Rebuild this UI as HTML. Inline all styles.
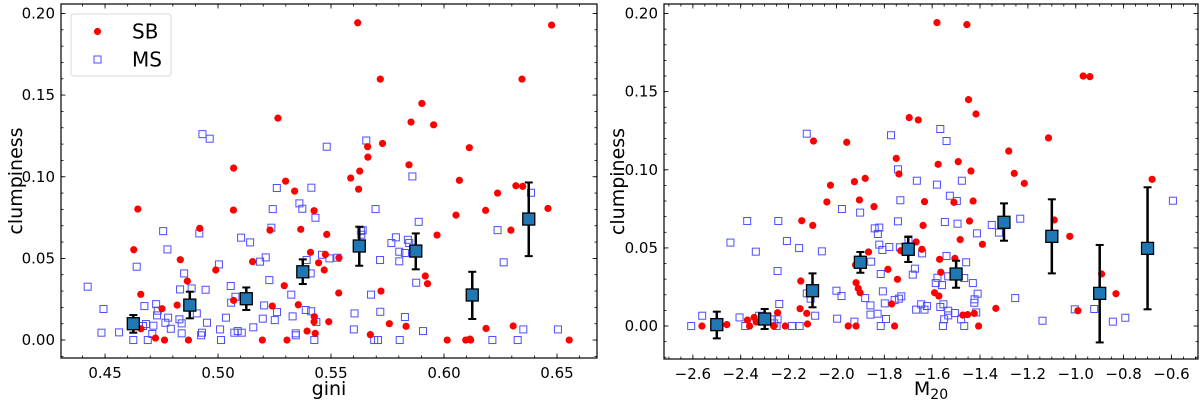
<!DOCTYPE html>
<html><head><meta charset="utf-8">
<style>
html,body{margin:0;padding:0;background:#fff;}
svg{display:block;font-family:"DejaVu Sans","Liberation Sans",sans-serif;}
</style></head>
<body>
<svg id="chart" width="1200" height="405" viewBox="0 0 1200 405" xmlns="http://www.w3.org/2000/svg"></svg>
<script>
// ---------- Left panel data (gini vs clumpiness) ----------
const sbGiniX = [0.4627,0.4645,0.4658,0.4659,0.4723,0.4752,0.4763,0.4819,0.4833,0.4864,0.4869,0.4919,0.499,0.5069,0.5068,0.5069,0.5153,0.5196,0.523,0.524,0.5265,0.5299,0.5293,0.5305,0.5339,0.5355,0.5366,0.5394,0.5409,0.5425,0.5426,0.5425,0.543,0.5445,0.547,0.5475,0.5481,0.549,0.5534,0.5535,0.5587,0.5618,0.5622,0.5627,0.5662,0.5663,0.5674,0.5718,0.5721,0.5728,0.5758,0.5832,0.5845,0.5854,0.5902,0.5917,0.5927,0.5954,0.5969,0.6014,0.6053,0.6068,0.6096,0.6112,0.6115,0.6118,0.6184,0.6186,0.6237,0.6296,0.6306,0.6318,0.6345,0.6348,0.646,0.6476,0.6554];
const sbGiniY = [0.0553,0.0802,0.028,0.0069,0.0012,0.0192,0,0.0214,0.0492,0.0361,0,0.0684,0.0429,0.1053,0.0796,0.0243,0.048,0,0.0673,0.0208,0.1359,0.0973,0.0333,0,0.0912,0.0216,0.0678,0.0055,0.0537,0.0792,0.0143,0.0112,0.0041,0.0473,0.0429,0.0524,0.0647,0.0112,0.0288,0.0504,0.0992,0.1943,0.0924,0.1035,0.1184,0.112,0.0033,0.1598,0.03,0.1204,0.01,0.0084,0.1073,0.1335,0.1449,0.0392,0.0345,0.1318,0.0643,0,0.0765,0.0978,0,0.1178,0.0006,0,0.0794,0.0071,0.09,0.0673,0.0086,0.0945,0.1598,0.0941,0.0806,0.1929,0];
const msGiniX = [0.4423,0.4493,0.4484,0.4562,0.4625,0.464,0.4668,0.4674,0.4681,0.4689,0.4709,0.4714,0.4726,0.473,0.4733,0.4757,0.4767,0.4776,0.4779,0.4791,0.4829,0.4832,0.4839,0.4839,0.485,0.4883,0.4906,0.4917,0.4925,0.4929,0.4931,0.4945,0.4951,0.4963,0.5004,0.5009,0.5013,0.5035,0.5056,0.5058,0.5077,0.5072,0.5087,0.5105,0.5102,0.5142,0.5156,0.5186,0.5204,0.5198,0.5211,0.5227,0.5236,0.5242,0.5251,0.5261,0.526,0.5324,0.533,0.5344,0.5344,0.536,0.5373,0.5392,0.5388,0.541,0.5412,0.5413,0.5426,0.5431,0.5435,0.546,0.5481,0.5493,0.5528,0.5604,0.5601,0.5632,0.564,0.5634,0.5656,0.5677,0.5691,0.5697,0.5708,0.5717,0.5718,0.5767,0.5787,0.5802,0.5802,0.5804,0.5827,0.5827,0.584,0.5846,0.586,0.5877,0.5888,0.5907,0.6214,0.6237,0.6264,0.6326,0.6351,0.6385,0.6504];
const msGiniY = [0.0327,0.019,0.0045,0.0047,0,0.0449,0.0086,0.0208,0.0098,0,0.0037,0.0088,0.022,0.0151,0.018,0.0667,0.0106,0.0555,0.0137,0.0069,0.0127,0.031,0.0102,0.0041,0.0408,0.0316,0.0163,0.0653,0.0029,0.0045,0.1261,0.0308,0.0106,0.1233,0.0463,0.0065,0,0.0137,0.0331,0.0229,0.0265,0.0045,0.0055,0.0045,0.0627,0.0598,0.0078,0.048,0.0212,0.0131,0.0506,0.0367,0.0688,0.0802,0.0122,0.0171,0.0931,0.0278,0.0145,0.0041,0.0029,0.0837,0.0804,0.049,0.0184,0.0408,0.0176,0.0933,0,0.0749,0.011,0.0522,0.1184,0.05,0.0504,0.0163,0.0065,0.0667,0.0673,0.0645,0.1222,0.0278,0,0.0802,0,0.049,0.0173,0.0594,0.0629,0.0541,0.0482,0,0.0533,0.0141,0.0614,0.0594,0.1002,0.0351,0.0724,0.0055,0,0.0673,0.0476,0,0.0065,0.0902,0.0065];
const binGiniX = [0.4625,0.4875,0.5125,0.5375,0.5625,0.5875,0.6125,0.6375];
const binGiniY = [0.0100,0.0214,0.0253,0.0418,0.0576,0.0545,0.0276,0.0741];
const binGiniLo = [0.0045,0.0133,0.0184,0.0343,0.0455,0.0433,0.0129,0.0514];
const binGiniHi = [0.0153,0.0296,0.0322,0.0494,0.0694,0.0653,0.0418,0.0965];
const giniTicks = [0.45,0.50,0.55,0.60,0.65];
const giniTickLabels = ["0.45","0.50","0.55","0.60","0.65"];

// ---------- Right panel data (M20 vs clumpiness) ----------
const sbM20X = [-2.562,-2.458,-2.372,-2.363,-2.344,-2.335,-2.262,-2.246,-2.214,-2.152,-2.149,-2.145,-2.124,-2.121,-2.099,-2.096,-2.040,-2.025,-1.957,-1.951,-1.925,-1.918,-1.918,-1.920,-1.909,-1.904,-1.901,-1.880,-1.866,-1.843,-1.785,-1.769,-1.757,-1.750,-1.745,-1.739,-1.731,-1.696,-1.667,-1.658,-1.643,-1.638,-1.632,-1.580,-1.455,-1.448,-1.417,-1.575,-1.491,-1.438,-1.509,-1.429,-1.444,-1.483,-1.390,-1.505,-1.569,-1.564,-1.590,-1.572,-1.472,-1.452,-1.424,-1.406,-1.334,-1.280,-1.257,-1.215,-1.114,-1.090,-1.025,-0.991,-0.969,-0.941,-0.892,-0.832,-0.681];
const sbM20Y = [0,0.0009,0.0038,0,0.0055,0.0026,0,0.0085,0,0.0111,0.0288,0.0674,0.0081,0.0013,0.0644,0.1184,0.0794,0.0901,0.1176,0,0.0924,0,0.0277,0.0391,0.0241,0.0807,0.0213,0.0945,0.0474,0.0764,0.0363,0.0141,0,0.1073,0.0299,0.0973,0.0482,0.1334,0.0538,0.1319,0.0491,0.0644,0.0796,0.1942,0.1929,0.1449,0.1357,0.1035,0.1052,0.0992,0.0792,0.08,0.0672,0.0553,0.0523,0.0433,0.0427,0.0344,0.0213,0.0192,0.007,0.0073,0.0081,0,0.0113,0.112,0.0977,0.0913,0.1204,0.0679,0.0574,0.0098,0.16,0.1596,0.0333,0.0207,0.0939];
const msM20X = [-2.607,-2.561,-2.510,-2.443,-2.405,-2.381,-2.373,-2.337,-2.323,-2.269,-2.260,-2.250,-2.246,-2.246,-2.243,-2.239,-2.207,-2.186,-2.156,-2.154,-2.124,-2.124,-2.108,-2.089,-2.061,-2.000,-1.997,-1.979,-1.977,-1.925,-1.901,-1.880,-1.858,-1.858,-1.855,-1.840,-1.828,-1.827,-1.821,-1.821,-1.815,-1.815,-1.808,-1.806,-1.798,-1.793,-1.779,-1.772,-1.757,-1.743,-1.743,-1.739,-1.735,-1.733,-1.729,-1.699,-1.681,-1.672,-1.667,-1.664,-1.642,-1.646,-1.632,-1.622,-1.566,-1.540,-1.580,-1.476,-1.526,-1.497,-1.547,-1.494,-1.413,-1.351,-1.321,-1.232,-1.540,-1.458,-1.578,-1.585,-1.559,-1.533,-1.466,-1.430,-1.410,-1.423,-1.424,-1.416,-1.553,-1.566,-1.533,-1.533,-1.505,-1.550,-1.555,-1.479,-1.466,-1.253,-1.139,-1.004,-0.923,-0.845,-0.793,-0.594];
const msM20Y = [0,0.0066,0,0.0534,0.0055,0,0.0672,0.0476,0.0066,0.0043,0.0017,0,0.0043,0.0352,0.0672,0.0141,0.0544,0,0.0499,0,0.1231,0.0209,0.0175,0.0066,0.0478,0.0226,0.0047,0.0192,0.0749,0.0028,0.0726,0.0179,0.0132,0.0073,0.0412,0.0625,0.0079,0.0589,0.063,0.0521,0.0333,0,0.0487,0.0222,0.0145,0.0045,0.0506,0.1221,0.0166,0.1003,0.067,0.0175,0.0504,0.0805,0.019,0.0555,0.0329,0.0367,0.0105,0.093,0.0465,0.0139,0.0105,0.0128,0.1261,0.1184,0.0905,0.093,0.0834,0.08,0.0666,0.0655,0.0593,0.0647,0.0598,0.0687,0.0448,0.0408,0.0309,0.0275,0.0262,0.0318,0.0307,0.0275,0.0207,0.0171,0.0149,0.0087,0.0139,0.0122,0.0098,0.0068,0.0083,0.0043,0,0.0043,0,0.0179,0.0034,0.0107,0.0109,0.0028,0.0053,0.0802];
const binM20X = [-2.5,-2.3,-2.1,-1.9,-1.7,-1.5,-1.3,-1.1,-0.9,-0.7];
const binM20Y = [0.0009,0.0045,0.0226,0.0408,0.0491,0.0333,0.0664,0.0574,0.0209,0.0497];
const binM20Lo = [-0.0079,-0.0019,0.012,0.0341,0.041,0.0245,0.0546,0.0337,-0.0105,0.0107];
const binM20Hi = [0.0092,0.0109,0.0337,0.0474,0.057,0.0418,0.0785,0.0811,0.0519,0.0888];
const m20Ticks = [-2.6,-2.4,-2.2,-2.0,-1.8,-1.6,-1.4,-1.2,-1.0,-0.8,-0.6];
const m20TickLabels = ["\u22122.6","\u22122.4","\u22122.2","\u22122.0","\u22121.8","\u22121.6","\u22121.4","\u22121.2","\u22121.0","\u22120.8","\u22120.6"];
const yTicks = [0,0.05,0.10,0.15,0.20];
const yTickLabels = ["0.00","0.05","0.10","0.15","0.20"];

const NS = "http://www.w3.org/2000/svg";
const svg = document.getElementById('chart');
function mk(tag, attrs, parent){
  const e = document.createElementNS(NS, tag);
  for (const k in attrs) e.setAttribute(k, attrs[k]);
  (parent||svg).appendChild(e);
  return e;
}
function linScale(d0,d1,r0,r1){ return v => r0 + (v-d0)*(r1-r0)/(d1-d0); }

function drawPanel(cfg){
  const g = mk('g', {});
  
  
  const xs = linScale(cfg.xd[0], cfg.xd[1], cfg.box[0], cfg.box[2]);
  const ys = linScale(cfg.yd[0], cfg.yd[1], cfg.box[3], cfg.box[1]);
  const [L,T,R,B] = cfg.box;
  const tk = mk('g', {stroke:'#000','stroke-width':0.8}, g);
  
  
  for (let v = cfg.xMinorStart; v <= cfg.xd[1]+1e-9; v += cfg.xMinor){
    const x = xs(v); if (x < L || x > R) continue;
    mk('line',{x1:x,x2:x,y1:B,y2:B-2.5},tk); mk('line',{x1:x,x2:x,y1:T,y2:T+2.5},tk);
  }
  for (let v = 0; v <= cfg.yd[1]+1e-9; v += 0.01){
    const y = ys(v);
    mk('line',{x1:L,x2:L+2.5,y1:y,y2:y},tk); mk('line',{x1:R,x2:R-2.5,y1:y,y2:y},tk);
  }
  for (let v = -0.01; v >= cfg.yd[0]; v -= 0.01){
    const y = ys(v);
    mk('line',{x1:L,x2:L+2.5,y1:y,y2:y},tk); mk('line',{x1:R,x2:R-2.5,y1:y,y2:y},tk);
  }
  cfg.xTicks.forEach((v,i)=>{
    const x = xs(v);
    mk('line',{x1:x,x2:x,y1:B,y2:B-4.5},tk); mk('line',{x1:x,x2:x,y1:T,y2:T+4.5},tk);
    const t = mk('text',{x:x,y:B+20,'text-anchor':'middle','font-size':15,fill:'#000'},g);
    t.textContent = cfg.xTickLabels[i];
    
    
  });
  yTicks.forEach((v,i)=>{
    const y = ys(v);
    mk('line',{x1:L,x2:L+4.5,y1:y,y2:y},tk); mk('line',{x1:R,x2:R-4.5,y1:y,y2:y},tk);
    const t = mk('text',{x:L-6,y:y+5,'text-anchor':'end','font-size':15,fill:'#000'},g);
    t.textContent = yTickLabels[i];
    
    
  });
  const ms = mk('g', {fill:'none',stroke:'#4d4dff','stroke-width':1}, g);
  
  
  cfg.msX.forEach((v,i)=>{
    const r = mk('rect',{x:xs(v)-3.5,y:ys(cfg.msY[i])-3.5,width:7,height:7},ms);
    
    
  });
  const sb = mk('g', {fill:'#ff0000'}, g);
  
  
  cfg.sbX.forEach((v,i)=>{
    const c = mk('circle',{cx:xs(v),cy:ys(cfg.sbY[i]),r:3.6},sb);
    
    
  });
  const bn = mk('g', {}, g);
  
  
  cfg.bX.forEach((v,i)=>{
    const x = xs(v), y = ys(cfg.bY[i]), yl = ys(cfg.bLo[i]), yh = ys(cfg.bHi[i]);
    const eb = mk('g',{stroke:'#000','stroke-width':2.5},bn);
    
    
    mk('line',{x1:x,x2:x,y1:yl,y2:yh},eb);
    mk('line',{x1:x-4,x2:x+4,y1:yl,y2:yl,'stroke-width':2},eb);
    mk('line',{x1:x-4,x2:x+4,y1:yh,y2:yh,'stroke-width':2},eb);
    const r = mk('rect',{x:x-6,y:y-6,width:12,height:12,fill:'#1f77b4',stroke:'#000','stroke-width':1.3},bn);
    
    
  });
  const fr = mk('rect',{x:L,y:T,width:R-L,height:B-T,fill:'none',stroke:'#000','stroke-width':1.2},g);
  
  
  const xt = mk('text',{x:(L+R)/2,y:395,'text-anchor':'middle','font-size':19,fill:'#000'},g);
  
  
  if (cfg.sub){
    xt.textContent = cfg.xTitle;
    const s = mk('tspan',{'font-size':14,dy:4},xt); s.textContent = cfg.sub;
  } else xt.textContent = cfg.xTitle;
  const yt = mk('text',{x:0,y:0,'text-anchor':'middle','font-size':19,fill:'#000',transform:`translate(${cfg.yTitleX},${(T+B)/2}) rotate(-90)`},g);
  yt.textContent = 'clumpiness';
  
  
  return g;
}

drawPanel({name:'gini-panel', box:[61,4,597,358], xd:[0.4305,0.6677], yd:[-0.011,0.2058],
  xTicks:giniTicks, xTickLabels:giniTickLabels, xMinor:0.01, xMinorStart:0.44,
  sbX:sbGiniX, sbY:sbGiniY, msX:msGiniX, msY:msGiniY,
  bX:binGiniX, bY:binGiniY, bLo:binGiniLo, bHi:binGiniHi,
  xTitle:'gini', yTitleX:22});
drawPanel({name:'m20-panel', box:[664,4,1198,359], xd:[-2.7206,-0.4892], yd:[-0.0211,0.2061],
  xTicks:m20Ticks, xTickLabels:m20TickLabels, xMinor:0.05, xMinorStart:-2.7,
  sbX:sbM20X, sbY:sbM20Y, msX:msM20X, msY:msM20Y,
  bX:binM20X, bY:binM20Y, bLo:binM20Lo, bHi:binM20Hi,
  xTitle:'M', sub:'20', yTitleX:624});

const lg = mk('g', {});


mk('rect',{x:71,y:14,width:100,height:62,rx:3,fill:'#fff',stroke:'#d8d8d8','stroke-width':1},lg);
const l1 = mk('g',{},lg);


mk('circle',{cx:97.5,cy:31.5,r:3.6,fill:'#ff0000'},l1);
const t1 = mk('text',{x:132,y:38.5,'font-size':20,fill:'#000'},l1); t1.textContent='SB';
const l2 = mk('g',{},lg);


mk('rect',{x:94,y:56,width:7,height:7,fill:'none',stroke:'#4d4dff','stroke-width':1},l2);
const t2 = mk('text',{x:132,y:66.5,'font-size':20,fill:'#000'},l2); t2.textContent='MS';
</script>
</body></html>
